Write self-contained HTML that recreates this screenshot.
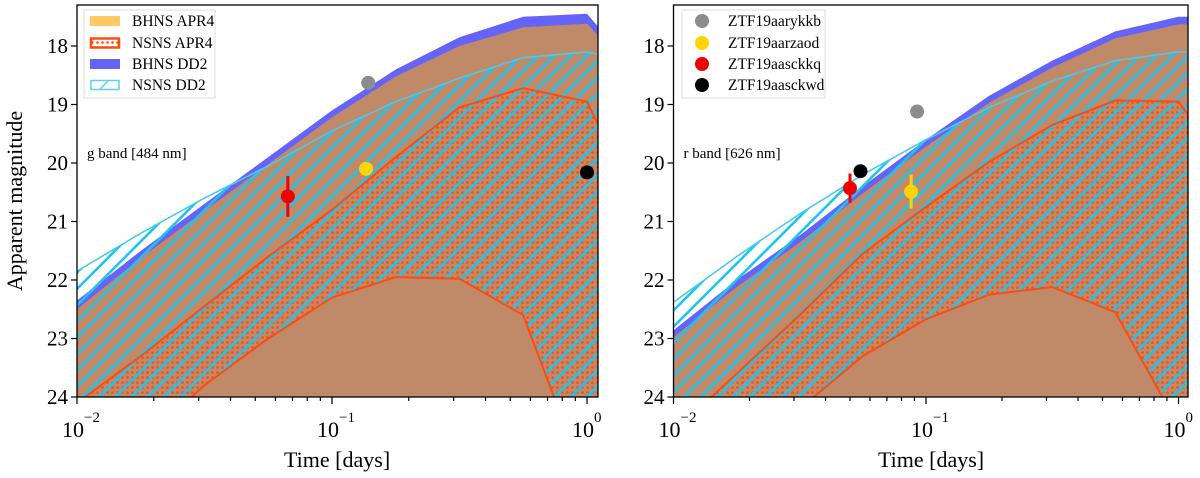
<!DOCTYPE html>
<html><head><meta charset="utf-8"><style>
html,body{margin:0;padding:0;background:#fff;overflow:hidden;width:1200px;height:478px;}
svg{display:block;}
text{font-family:"Liberation Serif","DejaVu Serif",serif;}
</style></head><body>
<svg id="chart" width="1200" height="478" viewBox="0 0 1200 478" xmlns="http://www.w3.org/2000/svg" font-family="Liberation Serif, serif">
<defs>
<pattern id="dots" width="5" height="5" patternUnits="userSpaceOnUse"><circle cx="2.5" cy="2.5" r="1.3" fill="#ff4a10"/></pattern>
<pattern id="hatch" width="11.5" height="11.5" patternUnits="userSpaceOnUse" patternTransform="rotate(45)"><line x1="5.75" y1="0" x2="5.75" y2="11.5" stroke="#1ec4ee" stroke-width="2.6"/></pattern>
<clipPath id="clipL"><rect x="77" y="5" width="521" height="392"/></clipPath>
<clipPath id="clipR"><rect x="673.5" y="5" width="514.5" height="392"/></clipPath>
</defs>
</svg>
<script>
// shared time grid (days)
const times = [0.01, 0.0178, 0.0316, 0.0562, 0.1, 0.178, 0.316, 0.562, 1.0, 1.12];
// g band (left)
const gBhnsDD2Top = [22.35, 21.5, 20.7, 19.9, 19.1, 18.4, 17.85, 17.5, 17.45, 17.7];
const gBhnsApr4Top = [22.5, 21.62, 20.82, 20.02, 19.22, 18.52, 18.0, 17.68, 17.62, 17.85];
const gNsnsDD2Top = [21.85, 21.2, 20.6, 20.05, 19.45, 18.95, 18.55, 18.2, 18.1, 18.15];
const gNsnsApr4Top = [24.1, 23.3, 22.45, 21.6, 20.8, 19.9, 19.05, 18.72, 18.95, 19.4];
const gNsnsApr4Bottom = [26.0, 24.8, 23.8, 23.0, 22.3, 21.95, 21.98, 22.6, 25.5, 26.0];
// r band (right)
const rBhnsDD2Top = [22.86, 22.0, 21.24, 20.4, 19.6, 18.85, 18.25, 17.75, 17.5, 17.5];
const rBhnsApr4Top = [22.98, 22.12, 21.36, 20.52, 19.72, 18.97, 18.37, 17.87, 17.63, 17.63];
const rNsnsDD2Top = [22.38, 21.6, 20.87, 20.2, 19.6, 19.05, 18.6, 18.25, 18.1, 18.1];
const rNsnsApr4Top = [24.6, 23.6, 22.6, 21.55, 20.75, 19.98, 19.35, 18.93, 18.95, 19.25];
const rNsnsApr4Bottom = [27.0, 25.5, 24.2, 23.3, 22.67, 22.25, 22.12, 22.55, 24.5, 25.0];
// observations
const objNames = ["ZTF19aarykkb", "ZTF19aarzaod", "ZTF19aasckkq", "ZTF19aasckwd"];
const objColors = ["#8c8c8c", "#ffd400", "#f00000", "#000000"];
const gObsTime = [0.1387, 0.136, 0.0671, 1.0];
const gObsMag = [18.63, 20.1, 20.57, 20.16];
const gObsErr = [0, 0, 0.35, 0.08];
const rObsTime = [0.0922, 0.0873, 0.050, 0.055];
const rObsMag = [19.12, 20.49, 20.43, 20.14];
const rObsErr = [0, 0.29, 0.25, 0];
const yTicks = [18, 19, 20, 21, 22, 23, 24];
const xMajor = [-2, -1, 0];

const NS = "http://www.w3.org/2000/svg";
const svg = document.getElementById("chart");
function mk(tag, attrs, parent) {
  const e = document.createElementNS(NS, tag);
  for (const k in attrs) e.setAttribute(k, attrs[k]);
  if (tag === "text") e.setAttribute("font-family", "Liberation Serif, DejaVu Serif, serif");
  (parent || svg).appendChild(e);
  return e;
}

function panel(cfg) {
  const X = t => cfg.x0 + (Math.log10(t) + 2) * cfg.dec;
  const Y = m => 46 + (m - 18) * 58.5;
  const g = mk("g", {"clip-path": "url(#" + cfg.clip + ")"});
  
  
  const curve = arr => times.map((t, i) => X(t).toFixed(1) + "," + Y(arr[i]).toFixed(1));
  const toBottom = arr => curve(arr).concat([X(times[times.length - 1]) + ",500", X(times[0]) + ",500"]).join(" ");
  const between = (a, b) => curve(a).concat(curve(b).reverse()).join(" ");

  const blue = mk("polygon", {points: toBottom(cfg.dd2bh), fill: "#6464fa"}, g);
  
  
  const brown = mk("polygon", {points: toBottom(cfg.apr4bh), fill: "#c08a68"}, g);
  
  
  const dots = mk("polygon", {points: between(cfg.apr4ns, cfg.apr4nsB), fill: "url(#dots)"}, g);
  
  
  const hatch = mk("polygon", {points: between(cfg.dd2ns, cfg.apr4nsB), fill: "url(#hatch)"}, g);
  
  
  const cl = mk("polyline", {points: curve(cfg.dd2ns).join(" "), fill: "none", stroke: "#4cc8ee", "stroke-width": 1.6}, g);
  
  
  const o1 = mk("polyline", {points: curve(cfg.apr4ns).join(" "), fill: "none", stroke: "#ff4a10", "stroke-width": 2}, g);
  
  
  const o2 = mk("polyline", {points: curve(cfg.apr4nsB).join(" "), fill: "none", stroke: "#ff4a10", "stroke-width": 2}, g);
  
  

  for (let i = 0; i < cfg.obsT.length; i++) {
    const cx = X(cfg.obsT[i]), cy = Y(cfg.obsM[i]);
    if (cfg.obsE[i] > 0) {
      const eb = mk("line", {x1: cx, x2: cx, y1: Y(cfg.obsM[i] - cfg.obsE[i]), y2: Y(cfg.obsM[i] + cfg.obsE[i]), stroke: objColors[i], "stroke-width": 3}, g);
      
      
    }
    const c = mk("circle", {cx: cx, cy: cy, r: 7, fill: objColors[i]}, g);
    
    
  }

  const frame = mk("rect", {x: cfg.x0, y: 5, width: cfg.x1 - cfg.x0, height: 392, fill: "none", stroke: "#000", "stroke-width": 1.3});
  
  

  yTicks.forEach(m => {
    const y = Y(m);
    mk("line", {x1: cfg.x0 - 6, x2: cfg.x0, y1: y, y2: y, stroke: "#000", "stroke-width": 1.2});
    const t = mk("text", {x: cfg.x0 - 9, y: y + 7, "font-size": 21, "text-anchor": "end"});
    t.textContent = m;
    
    
  });
  for (let d = -2; d <= 0; d++) {
    for (let k = 1; k <= 9; k++) {
      const lg = d + Math.log10(k);
      const x = cfg.x0 + (lg + 2) * cfg.dec;
      if (x > cfg.x1 + 0.5) continue;
      mk("line", {x1: x, x2: x, y1: 397, y2: k === 1 ? 404 : 401, stroke: "#000", "stroke-width": 1.2});
    }
  }
  xMajor.forEach(d => {
    const x = cfg.x0 + (d + 2) * cfg.dec;
    const t = mk("text", {x: x - 4, y: 437, "font-size": 22, "text-anchor": "middle"});
    t.textContent = "10";
    
    
    const s = mk("text", {x: x + 7, y: 422, "font-size": 15, "text-anchor": "start"});
    s.textContent = d === 0 ? "0" : "\u2212" + (-d);
    
    
  });
  const xl = mk("text", {x: cfg.x0 + cfg.dec * 1.02, y: 467, "font-size": 22, "text-anchor": "middle"});
  xl.textContent = "Time [days]";
  
  
  const bt = mk("text", {x: cfg.x0 + 10, y: 158, "font-size": 15});
  bt.textContent = cfg.band;
  
  
}

panel({name: "g-band", x0: 77, x1: 598, dec: 255, clip: "clipL", dd2bh: gBhnsDD2Top, apr4bh: gBhnsApr4Top, dd2ns: gNsnsDD2Top, apr4ns: gNsnsApr4Top, apr4nsB: gNsnsApr4Bottom, obsT: gObsTime, obsM: gObsMag, obsE: gObsErr, band: "g band [484 nm]"});
panel({name: "r-band", x0: 673.5, x1: 1188, dec: 252.5, clip: "clipR", dd2bh: rBhnsDD2Top, apr4bh: rBhnsApr4Top, dd2ns: rNsnsDD2Top, apr4ns: rNsnsApr4Top, apr4nsB: rNsnsApr4Bottom, obsT: rObsTime, obsM: rObsMag, obsE: rObsErr, band: "r band [626 nm]"});

const yl = mk("text", {x: 0, y: 0, "font-size": 22, "text-anchor": "middle", transform: "translate(22,201) rotate(-90)"});
yl.textContent = "Apparent magnitude";



// left legend
const lg1 = mk("g", {});


mk("rect", {x: 84, y: 10, width: 131, height: 88, fill: "#fff", "fill-opacity": 0.85, stroke: "#ddd", "stroke-width": 1}, lg1);
const legLabels = ["BHNS APR4", "NSNS APR4", "BHNS DD2", "NSNS DD2"];
const rowsY = [21, 43, 64, 85];
legLabels.forEach((lab, i) => {
  const y = rowsY[i];
  if (i === 0) mk("rect", {x: 90, y: y - 5, width: 30, height: 10, fill: "#ffc966"}, lg1);
  if (i === 1) { mk("rect", {x: 91, y: y - 4.5, width: 28, height: 9, fill: "url(#dots)", stroke: "#ff4a10", "stroke-width": 2.5}, lg1); }
  if (i === 2) mk("rect", {x: 90, y: y - 5, width: 30, height: 10, fill: "#6464fa"}, lg1);
  if (i === 3) { mk("rect", {x: 91, y: y - 4.5, width: 28, height: 9, fill: "#fff", stroke: "#58d0f4", "stroke-width": 1.5}, lg1); mk("line", {x1: 100, y1: y + 4, x2: 108, y2: y - 4, stroke: "#58d0f4", "stroke-width": 1.5}, lg1); }
  const t = mk("text", {x: 132, y: y + 5, "font-size": 15.5}, lg1);
  t.textContent = lab;
  
  
});
// right legend
const lg2 = mk("g", {});


mk("rect", {x: 682, y: 10, width: 143, height: 88, fill: "#fff", "fill-opacity": 0.85, stroke: "#ddd", "stroke-width": 1}, lg2);
objNames.forEach((n, i) => {
  const y = rowsY[i];
  mk("circle", {cx: 702, cy: y, r: 7, fill: objColors[i]}, lg2);
  const t = mk("text", {x: 728, y: y + 5, "font-size": 15.5}, lg2);
  t.textContent = n;
  
  
});
</script>
</body></html>
